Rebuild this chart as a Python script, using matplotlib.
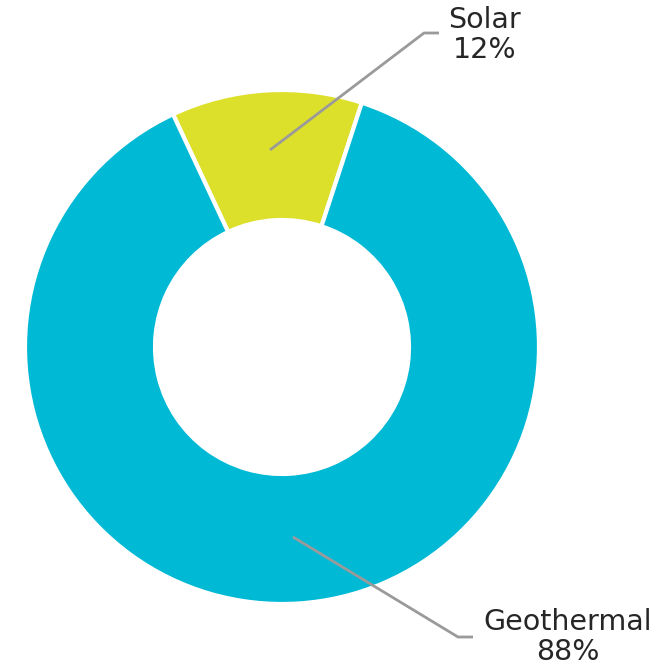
import matplotlib.pyplot as plt

# Data
labels = ['Solar', 'Geothermal']
shares = [12, 88]
colors = ['#DDE02B', '#00B9D5']

W, H = 659, 669

fig = plt.figure(figsize=(W / 100, H / 100), dpi=100)
ax = fig.add_axes([0, 0, 1, 1])

cx, cy = 282, H - 347
r_out, r_in = 257, 127

ax.pie(shares, colors=colors, startangle=71.9, counterclock=True,
       center=(cx, cy), radius=r_out, frame=True,
       wedgeprops=dict(width=r_out - r_in, edgecolor='white', linewidth=3))
ax.set_xlim(0, W)
ax.set_ylim(0, H)
ax.axis('off')

# leader lines (pixel coords, y flipped)
line_kw = dict(color='#9A9A9A', lw=2, solid_capstyle='butt')
ax.plot([270, 424, 439], [H - 150, H - 33, H - 33], **line_kw)
ax.plot([293, 458, 473], [H - 537, H - 637, H - 637], **line_kw)

txt_kw = dict(ha='center', va='center', fontsize=20.5, color='#262626',
              family='DejaVu Sans', linespacing=1.08)
ax.text(485, H - 35, f"{labels[0]}\n{shares[0]}%", **txt_kw)
ax.text(568, H - 637, f"{labels[1]}\n{shares[1]}%", **txt_kw)

fig.savefig('out.png', dpi=100)
